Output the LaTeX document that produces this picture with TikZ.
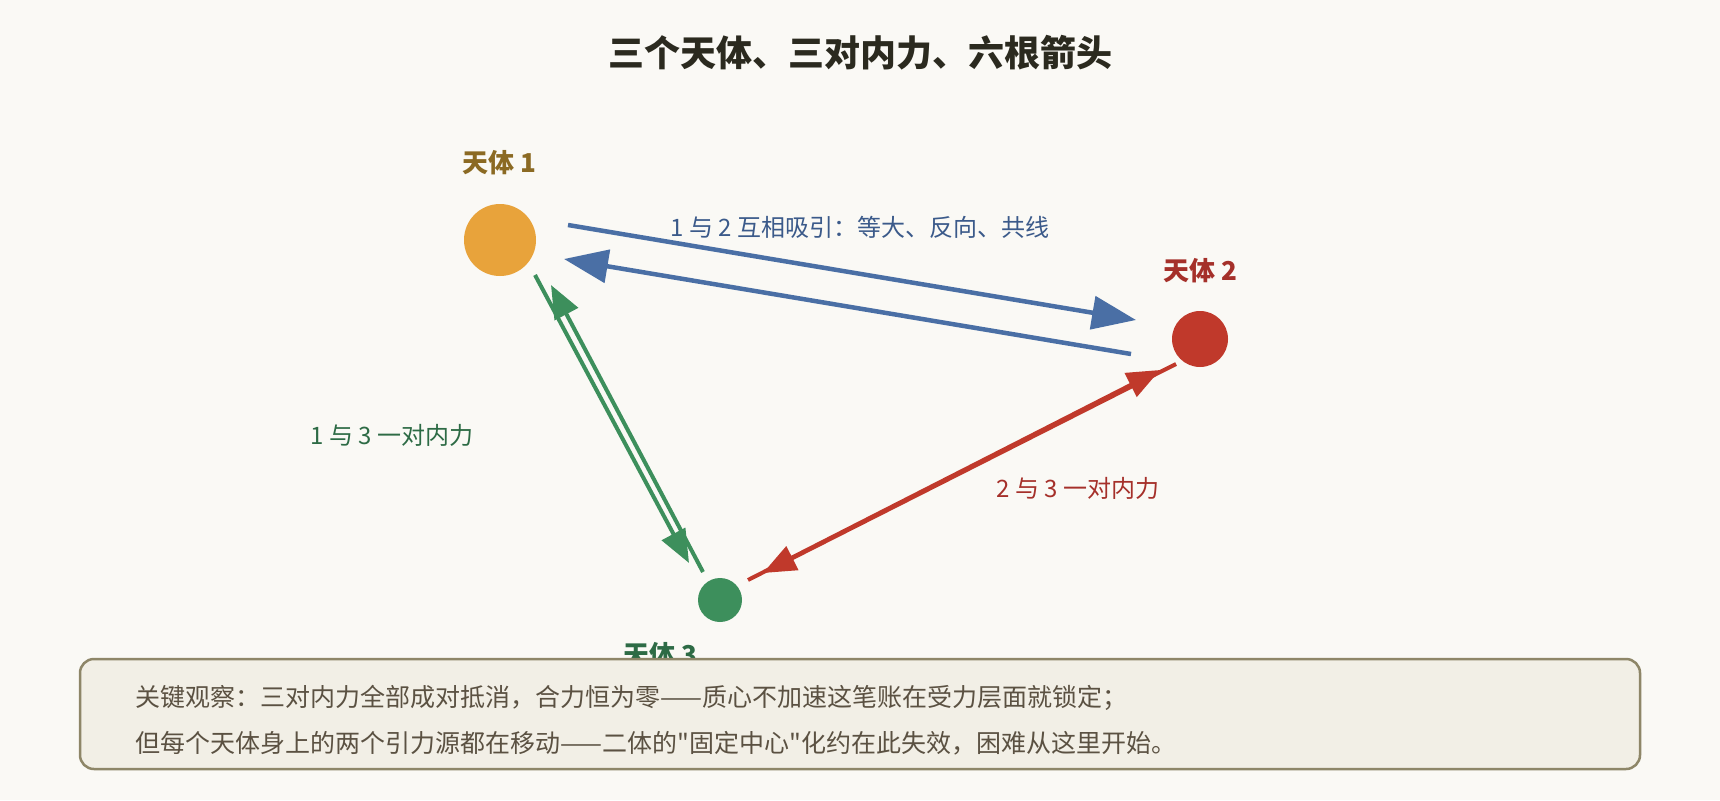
\documentclass[tikz,border=0pt]{standalone}
\usepackage{fontspec}
\setmainfont{Noto Sans CJK SC}
\newfontfamily\plaincjk{Noto Sans CJK SC}
\usetikzlibrary{arrows.meta,calc}

\definecolor{paper}{HTML}{FAF9F5}
\definecolor{ink}{HTML}{2B2A1F}
\definecolor{sun}{HTML}{E8A33B}
\definecolor{sunlabel}{HTML}{8B6A23}
\definecolor{redbody}{HTML}{C0392B}
\definecolor{redlabel}{HTML}{A5302A}
\definecolor{greenbody}{HTML}{3D8F5C}
\definecolor{greenlabel}{HTML}{2D6B45}
\definecolor{pairblue}{HTML}{4A6FA5}
\definecolor{pairbluetext}{HTML}{3B5A8A}
\definecolor{notefill}{HTML}{F2EFE6}
\definecolor{noteline}{HTML}{8E8668}
\definecolor{notetext}{HTML}{5B5142}

\begin{document}
\begin{tikzpicture}[x=1pt,y=-1pt,
    body/.style={circle, inner sep=0pt},
    bodyname/.style={font=\fontsize{26}{30}\selectfont\bfseries},
    pairtext/.style={font=\fontsize{24}{28}\selectfont},
    pullblue/.style={-{Triangle[length=44pt,width=33pt]}, line width=4.5pt, color=pairblue},
    pullgreen/.style={-{Triangle[length=33pt,width=26pt]}, line width=4pt, color=greenbody},
    pullred/.style={-{Triangle[length=33pt,width=26pt]}, line width=4pt, color=redbody},
    notetxt/.style={anchor=west, text=notetext, font=\plaincjk\fontsize{25}{29}\selectfont}]
  \useasboundingbox[fill=paper] (0,0) rectangle (1720,800);

  \node[text=ink, font=\fontsize{36}{40}\selectfont\bfseries] (title) at (860,53) {三个天体、三对内力、六根箭头};

  % the three bodies
  \node[body, fill=sun, minimum size=72pt] (b1) at (500,240) {};
  \node[body, fill=redbody, minimum size=56pt] (b2) at (1200,339) {};
  \node[body, fill=greenbody, minimum size=44pt] (b3) at (720,600) {};

  \node[bodyname, text=sunlabel] (n1) at (499,163) {天体 1};
  \node[bodyname, text=redlabel] (n2) at (1200,271) {天体 2};
  \node[bodyname, text=greenlabel] (n3) at (660,655) {天体 3};

  % 1 and 2
  \draw[pullblue] ($(b1)+(68,-15)$) -- ($(b2)+(-64,-19)$);
  \draw[pullblue] ($(b2)+(-69,15)$) -- ($(b1)+(64,19)$);
  \node[pairtext, text=pairbluetext] (l12) at (860,227) {1 与 2 互相吸引：等大、反向、共线};

  % 1 and 3
  \draw[pullgreen] ($(b1)+(35,35)$) -- ($(b3)+(-31,-37)$);
  \draw[pullgreen] ($(b3)+(-17,-28)$) -- ($(b1)+(51,45)$);
  \node[pairtext, text=greenlabel] (l13) at (392,435) {1 与 3 一对内力};

  % 2 and 3
  \draw[pullred] ($(b3)+(28,-20)$) -- ($(b2)+(-40,31)$);
  \draw[pullred] ($(b2)+(-24,25)$) -- ($(b3)+(43,-27)$);
  \node[pairtext, text=redlabel] (l23) at (1078,488) {2 与 3 一对内力};

  % note box
  \draw[fill=notefill, draw=noteline, line width=2.5pt, rounded corners=14pt] (80,659) rectangle (1640,769);
  \node[notetxt] (note1) at (132,698) {关键观察：三对内力全部成对抵消，合力恒为零——质心不加速这笔账在受力层面就锁定；};
  \node[notetxt] (note2) at (132,743) {但每个天体身上的两个引力源都在移动——二体的"固定中心"化约在此失效，困难从这里开始。};
\end{tikzpicture}
\end{document}
